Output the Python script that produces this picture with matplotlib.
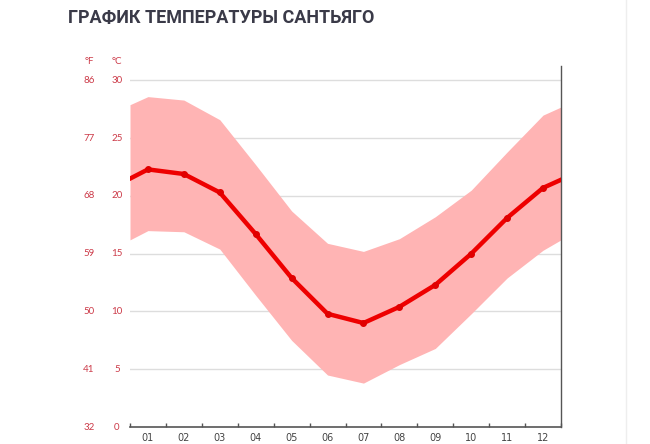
import matplotlib
matplotlib.use("Agg")
import matplotlib.pyplot as plt
import matplotlib.transforms as mtransforms
from matplotlib.lines import Line2D

# Data (°C); x positions 0.5 and 12.5 are the chart edges
months = [0.5, 1, 2, 3, 4, 5, 6, 7, 8, 9, 10, 11, 12, 12.5]
mean_t = [21.5, 22.3, 21.9, 20.3, 16.7, 12.9, 9.8, 9.0, 10.4, 12.3, 15.0, 18.1, 20.7, 21.4]
max_t = [27.9, 28.6, 28.3, 26.6, 22.7, 18.7, 15.9, 15.2, 16.3, 18.2, 20.5, 23.8, 27.0, 27.7]
min_t = [16.2, 17.0, 16.9, 15.4, 11.4, 7.5, 4.5, 3.8, 5.4, 6.8, 9.8, 12.9, 15.3, 16.2]
marker_months = [1, 2, 3, 4, 5, 6, 7, 8, 9, 10, 11, 12]
marker_mean = [22.3, 21.9, 20.3, 16.7, 12.9, 9.8, 9.0, 10.4, 12.3, 15.0, 18.1, 20.7]
month_labels = ["01", "02", "03", "04", "05", "06", "07", "08", "09", "10", "11", "12"]
c_ticks = [0, 5, 10, 15, 20, 25, 30]
f_labels = ["32", "41", "50", "59", "68", "77", "86"]
title = "ГРАФИК ТЕМПЕРАТУРЫ САНТЬЯГО"

fig = plt.figure(figsize=(6.5, 4.44), dpi=100)
ax = fig.add_axes([130 / 650, 17 / 444, 431 / 650, 361 / 444])

label_red = "#cc3a48"

ax.fill_between(months, min_t, max_t, color="#ffb4b4", linewidth=0, zorder=2)
ax.plot(months, mean_t, color="#ee0000", linewidth=3.2, zorder=3, solid_joinstyle="round")
ax.plot(marker_months, marker_mean, linestyle="none", marker="o", markersize=4.0,
        color="#e00000", zorder=4)

ax.set_xlim(0.5, 12.5)
ax.set_ylim(0, 31.25)

for c in c_ticks[1:]:
    ax.axhline(c, color="#dddddd", linewidth=1, zorder=1)

for s in ["top", "left"]:
    ax.spines[s].set_visible(False)
ax.spines["bottom"].set_color("#555555")
ax.spines["bottom"].set_linewidth(1.2)
ax.spines["right"].set_color("#555555")
ax.spines["right"].set_linewidth(1.0)

ax.set_xticks(marker_months)
ax.set_xticklabels(month_labels, fontsize=7, color="#444444", family="DejaVu Sans")
ax.tick_params(axis="x", which="major", length=0, pad=4)
ax.set_xticks([m + 0.5 for m in range(0, 13)], minor=True)
ax.tick_params(axis="x", which="minor", direction="in", length=3, color="#555555", width=1)

ax.set_yticks([])

trans = mtransforms.blended_transform_factory(fig.transFigure, ax.transData)
for c, f in zip(c_ticks, f_labels):
    ax.text(117 / 650, c, str(c), transform=trans, ha="center", va="center",
            fontsize=7, color=label_red, family="Lato")
    ax.text(89 / 650, c, f, transform=trans, ha="center", va="center",
            fontsize=7, color=label_red, family="Lato")

fig.text(89 / 650, 1 - 62 / 444, "°F", ha="center", va="center", fontsize=7,
         color=label_red, family="Lato")
fig.text(117 / 650, 1 - 62 / 444, "°C", ha="center", va="center", fontsize=7,
         color=label_red, family="Lato")

fig.text(68 / 650, 1 - 18 / 444, title, ha="left", va="center", fontsize=13,
         fontweight="bold", color="#3a3a48",
         family=["Roboto", "Liberation Sans", "DejaVu Sans"])

fig.add_artist(Line2D([625.5 / 650, 625.5 / 650], [0, 1], color="#eeeeee",
                      linewidth=1, transform=fig.transFigure))

fig.savefig("out.png", dpi=100)
